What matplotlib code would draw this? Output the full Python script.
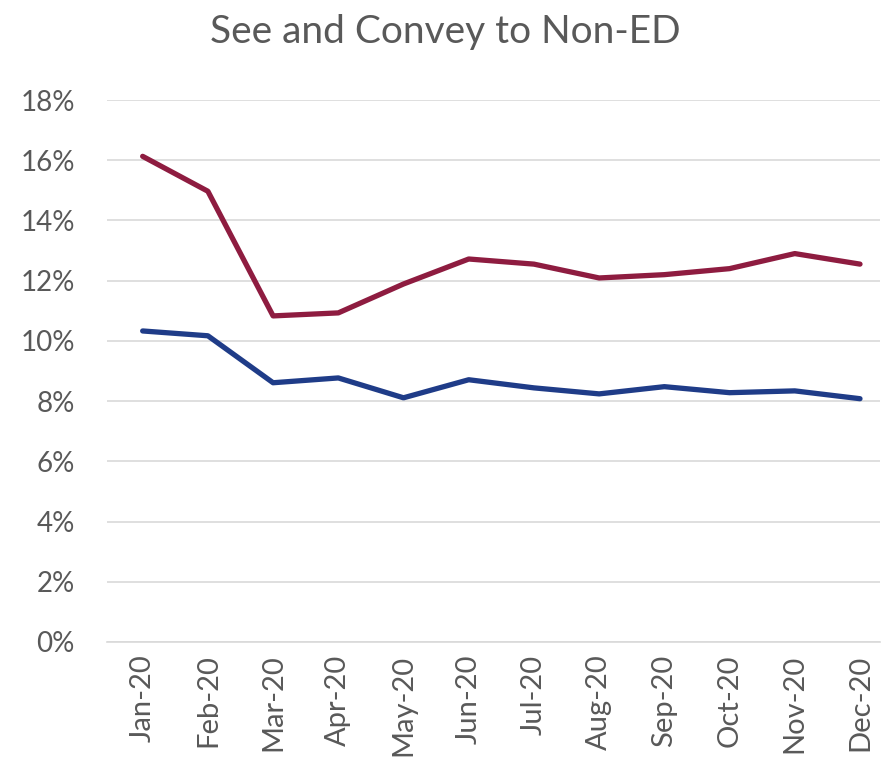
import matplotlib.pyplot as plt
from matplotlib.ticker import PercentFormatter

# datos
meses = ["Jan-20", "Feb-20", "Mar-20", "Apr-20", "May-20", "Jun-20",
         "Jul-20", "Aug-20", "Sep-20", "Oct-20", "Nov-20", "Dec-20"]
serie_roja = [16.13, 14.97, 10.83, 10.93, 11.89, 12.72, 12.55, 12.09, 12.20, 12.40, 12.90, 12.55]
serie_azul = [10.33, 10.17, 8.61, 8.77, 8.11, 8.71, 8.44, 8.24, 8.48, 8.28, 8.34, 8.08]
ticks_y = [0, 2, 4, 6, 8, 10, 12, 14, 16, 18]

plt.rcParams['font.family'] = ['Lato', 'DejaVu Sans']

fig = plt.figure(figsize=(8.9, 7.76), dpi=100)
ax = fig.add_axes([0.120, 0.1727, 0.869, 0.6984])

x = list(range(len(meses)))
ax.plot(x, serie_roja, color="#8E1C40", linewidth=3.8, solid_capstyle="round", solid_joinstyle="round")
ax.plot(x, serie_azul, color="#1F3C88", linewidth=3.8, solid_capstyle="round", solid_joinstyle="round")

ax.set_xlim(-0.55, 11.31)
ax.set_ylim(0, 18)
ax.set_yticks(ticks_y)
ax.yaxis.set_major_formatter(PercentFormatter(decimals=0))
ax.set_xticks(x)
ax.set_xticklabels(meses, rotation=90)

ax.grid(axis="y", color="#D9D9D9", linewidth=1.2)
ax.set_axisbelow(True)
for lado in ["top", "right", "left"]:
    ax.spines[lado].set_visible(False)
ax.spines["bottom"].set_color("#D9D9D9")
ax.spines["bottom"].set_linewidth(1.2)
ax.tick_params(axis="both", length=0, labelcolor="#595959")
ax.tick_params(axis="y", pad=23, labelsize=20)
ax.tick_params(axis="x", pad=9, labelsize=21)

fig.text(0.5, 1 - 32 / 776, "See and Convey to Non-ED", ha="center", va="center",
         fontsize=28, color="#595959")

fig.savefig("out.png", dpi=100)
